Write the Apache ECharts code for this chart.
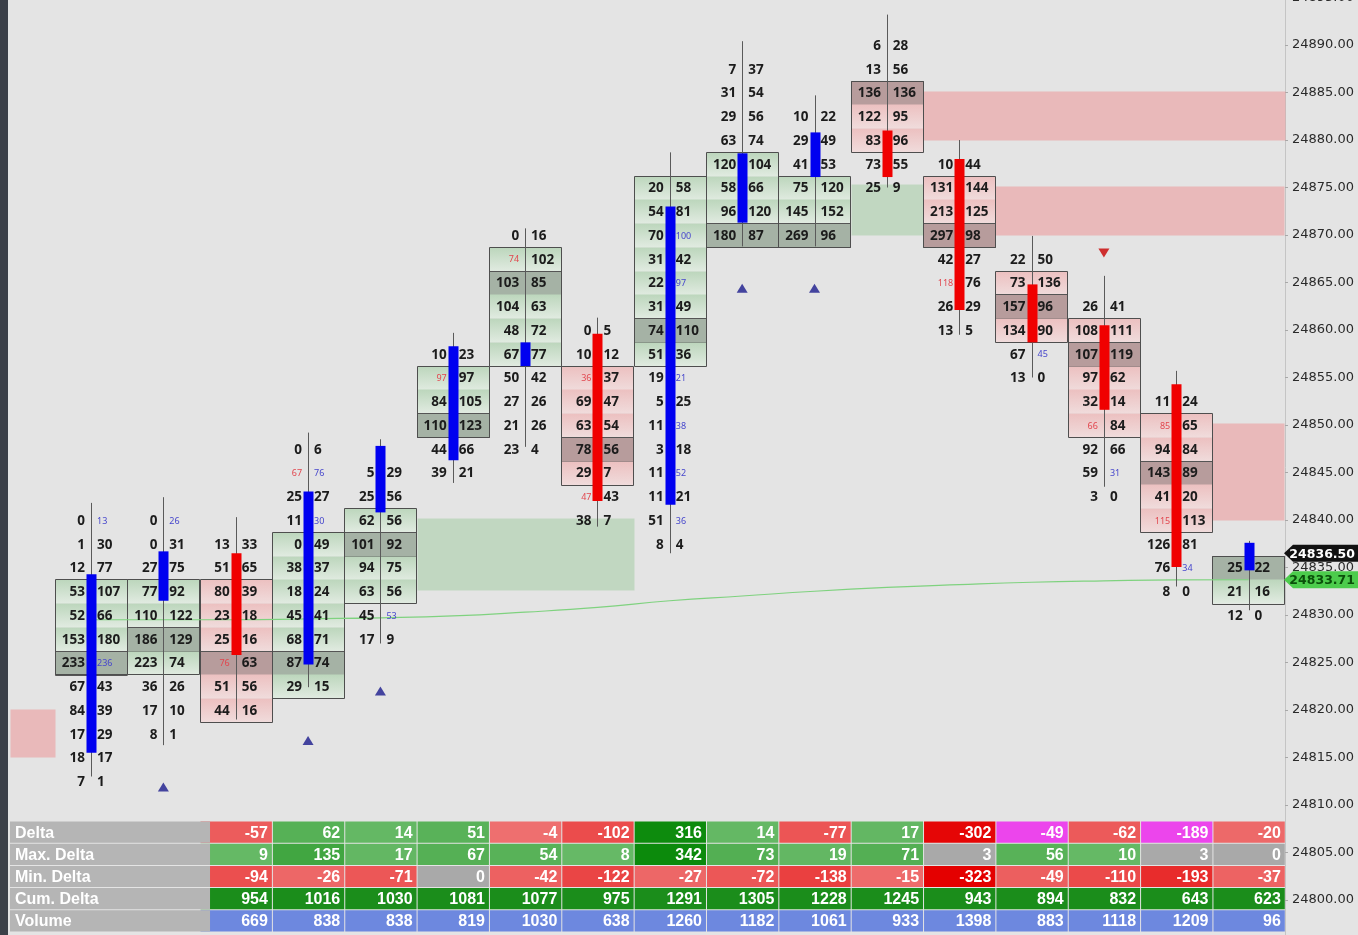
<!DOCTYPE html>
<html>
<head>
<meta charset="utf-8">
<title>Footprint</title>
<script src="https://cdn.jsdelivr.net/npm/echarts@6.0.0/dist/echarts.min.js"></script>
<style>
  html, body { margin: 0; padding: 0; background: #e4e4e4; }
  #chart { width: 1358px; height: 935px; }
</style>
</head>
<body>
<div id="chart"></div>
<script>
// ---- footprint data (bar index 0..16, rows every 2.5 points) ----
const topPrice = [24840, 24840, 24837.5, 24847.5, 24845, 24857.5, 24870, 24860, 24875, 24887.5, 24882.5, 24890, 24877.5, 24867.5, 24862.5, 24852.5, 24835];

const bidVol = [
  [0, 1, 12, 53, 52, 153, 233, 67, 84, 17, 18, 7],
  [0, 0, 27, 77, 110, 186, 223, 36, 17, 8],
  [13, 51, 80, 23, 25, 76, 51, 44],
  [0, 67, 25, 11, 0, 38, 18, 45, 68, 87, 29],
  [5, 25, 62, 101, 94, 63, 45, 17],
  [10, 97, 84, 110, 44, 39],
  [0, 74, 103, 104, 48, 67, 50, 27, 21, 23],
  [0, 10, 36, 69, 63, 78, 29, 47, 38],
  [20, 54, 70, 31, 22, 31, 74, 51, 19, 5, 11, 3, 11, 11, 51, 8],
  [7, 31, 29, 63, 120, 58, 96, 180],
  [10, 29, 41, 75, 145, 269],
  [6, 13, 136, 122, 83, 73, 25],
  [10, 131, 213, 297, 42, 118, 26, 13],
  [22, 73, 157, 134, 67, 13],
  [26, 108, 107, 97, 32, 66, 92, 59, 3],
  [11, 85, 94, 143, 41, 115, 126, 76, 8],
  [25, 21, 12]
];

const askVol = [
  [13, 30, 77, 107, 66, 180, 236, 43, 39, 29, 17, 1],
  [26, 31, 75, 92, 122, 129, 74, 26, 10, 1],
  [33, 65, 39, 18, 16, 63, 56, 16],
  [6, 76, 27, 30, 49, 37, 24, 41, 71, 74, 15],
  [29, 56, 56, 92, 75, 56, 53, 9],
  [23, 97, 105, 123, 66, 21],
  [16, 102, 85, 63, 72, 77, 42, 26, 26, 4],
  [5, 12, 37, 47, 54, 56, 7, 43, 7],
  [58, 81, 100, 42, 97, 49, 110, 36, 21, 25, 38, 18, 52, 21, 36, 4],
  [37, 54, 56, 74, 104, 66, 120, 87],
  [22, 49, 53, 120, 152, 96],
  [28, 56, 136, 95, 96, 55, 9],
  [44, 144, 125, 98, 27, 76, 29, 5],
  [50, 136, 96, 90, 45, 0],
  [41, 111, 119, 62, 14, 84, 66, 31, 0],
  [24, 65, 84, 89, 20, 113, 81, 34, 0],
  [22, 16, 0]
];

// imbalance cells [bar, price]
const bidImbalance = [[2, 24825], [3, 24845], [5, 24855], [6, 24867.5], [7, 24855], [7, 24842.5], [12, 24865], [14, 24850], [15, 24850], [15, 24840]];
const askImbalance = [[0, 24840], [0, 24825], [1, 24840], [3, 24845], [3, 24840], [4, 24830], [8, 24870], [8, 24865], [8, 24855], [8, 24850], [8, 24845], [8, 24840], [13, 24857.5], [14, 24845], [15, 24835]];

// value area + point of control
const vaHigh = [24832.5, 24832.5, 24832.5, 24837.5, 24840, 24855, 24867.5, 24855, 24875, 24877.5, 24875, 24885, 24875, 24865, 24860, 24850, 24835];
const vaLow  = [24825, 24825, 24820, 24822.5, 24832.5, 24850, 24857.5, 24845, 24857.5, 24870, 24870, 24880, 24870, 24860, 24850, 24840, 24832.5];
const poc    = [24825, 24827.5, 24825, 24825, 24837.5, 24850, 24865, 24847.5, 24860, 24870, 24870, 24885, 24870, 24862.5, 24857.5, 24845, 24835];

// candles
const open  = [24815.5, 24831.5, 24836.5, 24824.8, 24840.8, 24846.3, 24856.2, 24859.6, 24841.6, 24871.3, 24876.1, 24881, 24878, 24864.8, 24860.5, 24854.3, 24834.7];
const high  = [24841.8, 24842.4, 24840.3, 24849.2, 24848.5, 24859.7, 24870.7, 24861.3, 24878.7, 24890.4, 24884.7, 24893.2, 24880, 24869.9, 24865.7, 24855.7, 24837.8];
const low   = [24813, 24816.3, 24819, 24822.4, 24827, 24843.9, 24847.7, 24839.3, 24836.5, 24868.8, 24868.8, 24875, 24859.5, 24855, 24843.5, 24833, 24830.5];
const close = [24834.3, 24836.7, 24825.8, 24843, 24847.8, 24858.3, 24858.7, 24842, 24873, 24878.6, 24880.8, 24876.1, 24862.1, 24858.7, 24851.6, 24835.05, 24837.6];

// vwap line
const vwap = [24829.5, 24829.5, 24829.5, 24829.6, 24829.7, 24829.9, 24830.3, 24830.8, 24831.5, 24832.0, 24832.5, 24832.9, 24833.2, 24833.45, 24833.6, 24833.7, 24833.71];

// signal triangles [bar, price]
const upSignals = [[1, 24811.9], [3, 24816.8], [4, 24822], [9, 24864.4], [10, 24864.4]];
const downSignals = [[14, 24868.1]];

// supply / demand zones
const zoneStart = [11.5, 12.5, 15.5, -1.12, 4.5, 10.5];
const zoneEnd   = [16.5, 16.5, 16.5, -0.5, 7.5, 11.5];
const zoneLow   = [24880, 24870, 24840, 24815, 24832.6, 24870];
const zoneHigh  = [24885.2, 24875.2, 24850.2, 24820.1, 24840.2, 24875.4];
const zoneSide  = ['supply', 'supply', 'supply', 'supply', 'demand', 'demand'];

const lastPrice = 24836.5;
const vwapLast = 24833.71;

// bar statistics table (bars 2..16)
const tableRows = ['Delta', 'Max. Delta', 'Min. Delta', 'Cum. Delta', 'Volume'];
const firstTableBar = 2;
const delta    = [-57, 62, 14, 51, -4, -102, 316, 14, -77, 17, -302, -49, -62, -189, -20];
const maxDelta = [9, 135, 17, 67, 54, 8, 342, 73, 19, 71, 3, 56, 10, 3, 0];
const minDelta = [-94, -26, -71, 0, -42, -122, -27, -72, -138, -15, -323, -49, -110, -193, -37];
const cumDelta = [954, 1016, 1030, 1081, 1077, 975, 1291, 1305, 1228, 1245, 943, 894, 832, 643, 623];
const volume   = [669, 838, 838, 819, 1030, 638, 1260, 1182, 1061, 933, 1398, 883, 1118, 1209, 96];
const deltaDivergence = [13, 15]; // bars with magenta delta

// ---- build series items ----
const X_MIN = -1.258, X_MAX = 16.503;
const ROW = 2.5;

const hasCell = (list, i, p) => list.some(d => d[0] === i && d[1] === p) ? 1 : 0;

const cellItems = [];
topPrice.forEach((top, i) => {
  bidVol[i].forEach((b, r) => {
    const p = top - r * ROW;
    cellItems.push([i, p, b, askVol[i][r], hasCell(bidImbalance, i, p), hasCell(askImbalance, i, p)]);
  });
});

const vaItems = [];
const boxItems = [];
vaHigh.forEach((hi, i) => {
  const up = close[i] >= open[i] ? 1 : 0;
  for (let p = hi; p >= vaLow[i]; p -= ROW) {
    vaItems.push([i, p, p === poc[i] ? 1 : 0, up]);
  }
  boxItems.push([i, hi, vaLow[i], poc[i]]);
});

const candleItems = open.map((o, i) => [i, o, high[i], low[i], close[i]]);
const zoneItems = zoneStart.map((x0, k) => [x0, zoneEnd[k], zoneLow[k], zoneHigh[k], zoneSide[k] === 'supply' ? 1 : 0]);

const tableSeries = [delta, maxDelta, minDelta, cumDelta, volume];
const tableItems = [];
tableSeries.forEach((vals, r) => {
  vals.forEach((v, k) => {
    const bar = k + firstTableBar;
    const flag = r === 0 && deltaDivergence.includes(bar) ? 1 : 0;
    tableItems.push([bar, r, v, flag]);
  });
});

// ---- styles ----
const FONT = '"Noto Sans", "DejaVu Sans", sans-serif';
const TFONT = '"Liberation Sans", Arial, sans-serif';

function mix(a, b, t) {
  return 'rgb(' + a.map((c, j) => Math.round(c + (b[j] - c) * t)).join(',') + ')';
}

function cellColor(row, v, flag) {
  if (row === 3) return '#1b8d1b';
  if (row === 4) return '#6d88df';
  if (flag) return '#ec45ec';
  if (Math.abs(v) <= 3) return '#a9a9a9';
  const t = Math.min(Math.abs(v) / 320, 1);
  return v > 0 ? mix([104, 186, 104], [12, 138, 12], t) : mix([238, 112, 112], [228, 0, 0], t);
}

const upFill = new echarts.graphic.LinearGradient(0, 0, 0, 1, [
  { offset: 0, color: '#bcd6bc' }, { offset: 1, color: '#e1ebe1' }
]);
const downFill = new echarts.graphic.LinearGradient(0, 0, 0, 1, [
  { offset: 0, color: '#ecc0c0' }, { offset: 1, color: '#f0dcdc' }
]);

function rowRect(api, x0, x1, pHigh, pLow) {
  const a = api.coord([x0, pHigh]);
  const b = api.coord([x1, pLow]);
  return { x: Math.round(a[0]) + 0.5, y: Math.round(a[1]) + 0.5, width: Math.round(b[0] - a[0]), height: Math.round(b[1] - a[1]) };
}

const chart = echarts.init(document.getElementById('chart'));

const option = {
  backgroundColor: '#e4e4e4',
  animation: false,
  grid: [
    { left: 0, top: -2.5, width: 1285, height: 950, outerBoundsMode: 'none', containLabel: false },
    { left: 0, top: 821, width: 1285, height: 111, outerBoundsMode: 'none', containLabel: false }
  ],
  xAxis: [
    { type: 'value', min: X_MIN, max: X_MAX, show: false, gridIndex: 0 },
    { type: 'value', min: X_MIN, max: X_MAX, show: false, gridIndex: 1 }
  ],
  yAxis: [
    {
      type: 'value', gridIndex: 0, position: 'right',
      min: 24795, max: 24895, interval: 5,
      axisLine: { show: true, onZero: false, lineStyle: { color: '#c4c4c4' } },
      axisTick: { show: true, length: 3, lineStyle: { color: '#a8a8a8' } },
      splitLine: { show: false },
      axisLabel: {
        margin: 7, color: '#2a2a2a', fontSize: 13, fontFamily: '"DejaVu Sans", sans-serif',
        formatter: v => v.toFixed(2)
      }
    },
    {
      type: 'category', gridIndex: 1, data: tableRows, inverse: true, show: false,
      axisLine: { onZero: false }
    }
  ],
  graphic: [
    { type: 'rect', z: 100, shape: { x: 0, y: 0, width: 8, height: 935 }, style: { fill: '#3b4048' } }
  ],
  series: [
    {
      // zones
      type: 'custom', z: 1, data: zoneItems,
      renderItem: (params, api) => {
        const r = rowRect(api, api.value(0), api.value(1), api.value(3), api.value(2));
        return { type: 'rect', shape: r, style: { fill: api.value(4) ? 'rgba(236,150,152,0.55)' : 'rgba(150,200,150,0.45)' } };
      }
    },
    {
      // value area rows
      type: 'custom', z: 2, data: vaItems,
      renderItem: (params, api) => {
        const i = api.value(0), p = api.value(1), isPoc = api.value(2), up = api.value(3);
        const r = rowRect(api, i - 0.5, i + 0.5, p + ROW / 2, p - ROW / 2);
        let fill;
        if (isPoc) fill = up ? '#a5b2a5' : '#b79c9c';
        else fill = up ? upFill : downFill;
        return {
          type: 'rect', shape: r,
          style: { fill: fill, stroke: isPoc ? '#555' : null, lineWidth: 1 }
        };
      }
    },
    {
      // value area outline
      type: 'custom', z: 3, data: boxItems,
      renderItem: (params, api) => {
        const i = api.value(0);
        const r = rowRect(api, i - 0.5, i + 0.5, api.value(1) + ROW / 2, api.value(2) - ROW / 2);
        return { type: 'rect', shape: r, style: { fill: 'none', stroke: '#4e4e4e', lineWidth: 1 } };
      }
    },
    {
      type: 'line', z: 4, data: vwap.map((v, i) => [i, v]),
      showSymbol: false, smooth: true,
      lineStyle: { color: '#7fd27f', width: 1.2 }
    },
    {
      // candles
      type: 'custom', z: 5, data: candleItems,
      renderItem: (params, api) => {
        const i = api.value(0), o = api.value(1), h = api.value(2), l = api.value(3), c = api.value(4);
        const ph = api.coord([i, h]), pl = api.coord([i, l]);
        const po = api.coord([i, o]), pc = api.coord([i, c]);
        const x = Math.round(ph[0]) + 0.5;
        const up = c >= o;
        return {
          type: 'group', children: [
            { type: 'line', shape: { x1: x, y1: ph[1], x2: x, y2: pl[1] }, style: { stroke: '#5a5a5a', lineWidth: 1 } },
            {
              type: 'rect',
              shape: { x: x - 5, y: Math.min(po[1], pc[1]), width: 10, height: Math.max(2, Math.abs(po[1] - pc[1])) },
              style: { fill: up ? '#0000f0' : '#f00000' }
            }
          ]
        };
      }
    },
    {
      // bid x ask numbers
      type: 'custom', z: 6, data: cellItems,
      renderItem: (params, api) => {
        const c = api.coord([api.value(0), api.value(1)]);
        const bi = api.value(4), ai = api.value(5);
        return {
          type: 'group', children: [
            {
              type: 'text',
              style: {
                x: c[0] - 6, y: c[1] + 1, text: String(api.value(2)), align: 'right', verticalAlign: 'middle',
                fontFamily: FONT, fontSize: bi ? 9 : 13.5, fontWeight: bi ? 'normal' : 'bold',
                fill: bi ? '#e2474f' : '#1c1c1c'
              }
            },
            {
              type: 'text',
              style: {
                x: c[0] + 6, y: c[1] + 1, text: String(api.value(3)), align: 'left', verticalAlign: 'middle',
                fontFamily: FONT, fontSize: ai ? 9 : 13.5, fontWeight: ai ? 'normal' : 'bold',
                fill: ai ? '#4646cc' : '#1c1c1c'
              }
            }
          ]
        };
      }
    },
    {
      type: 'scatter', z: 7, data: upSignals, symbol: 'triangle', symbolSize: [11, 9],
      itemStyle: { color: '#1a1a8c' }
    },
    {
      type: 'scatter', z: 7, data: downSignals, symbol: 'triangle', symbolRotate: 180, symbolSize: [11, 9],
      itemStyle: { color: '#c80000' }
    },
    {
      // price tags on the axis
      type: 'custom', z: 20, data: [[lastPrice, 0], [vwapLast, 1]],
      renderItem: (params, api) => {
        const p = api.value(0), kind = api.value(1);
        const pt = api.coord([X_MAX, p]);
        const x0 = pt[0], y = pt[1], W = api.getWidth();
        return {
          type: 'group', children: [
            {
              type: 'polygon',
              shape: { points: [[x0 - 1, y], [x0 + 8, y - 8.5], [W, y - 8.5], [W, y + 8.5], [x0 + 8, y + 8.5]] },
              style: { fill: kind ? '#4ccc4c' : '#111111' }
            },
            {
              type: 'text',
              style: {
                x: W - 3, y: y + 1, text: p.toFixed(2), align: 'right', verticalAlign: 'middle',
                fontFamily: '"DejaVu Sans", sans-serif', fontSize: 12.5, fontWeight: 'bold',
                fill: kind ? '#0a4f0a' : '#ffffff'
              }
            }
          ]
        };
      }
    },
    {
      // table cells
      type: 'custom', z: 30, xAxisIndex: 1, yAxisIndex: 1, data: tableItems,
      renderItem: (params, api) => {
        const bar = api.value(0), r = api.value(1), v = api.value(2), flag = api.value(3);
        const c = api.coord([bar, r]);
        const s = api.size([1, 1]);
        const x = c[0] - s[0] / 2, y = c[1] - s[1] / 2;
        return {
          type: 'group', children: [
            { type: 'rect', shape: { x: x + 1, y: y + 0.5, width: s[0] - 1, height: s[1] - 1 }, style: { fill: cellColor(r, v, flag) } },
            {
              type: 'text',
              style: {
                x: x + s[0] - 4, y: c[1] + 1, text: String(v), align: 'right', verticalAlign: 'middle',
                fontFamily: TFONT, fontSize: 16, fontWeight: 'bold', fill: '#ffffff'
              }
            }
          ]
        };
      }
    },
    {
      // table row labels
      type: 'custom', z: 31, xAxisIndex: 1, yAxisIndex: 1, data: tableRows.map((t, r) => [r]),
      renderItem: (params, api) => {
        const r = api.value(0);
        const a = api.coord([-1.12, r]);
        const b = api.coord([1.645, r]);
        const s = api.size([1, 1]);
        const y = a[1] - s[1] / 2;
        return {
          type: 'group', children: [
            { type: 'rect', shape: { x: a[0], y: y + 0.5, width: b[0] - a[0], height: s[1] - 1 }, style: { fill: '#b5b5b5' } },
            {
              type: 'text',
              style: {
                x: a[0] + 5, y: a[1] + 1, text: tableRows[r], align: 'left', verticalAlign: 'middle',
                fontFamily: TFONT, fontSize: 16, fontWeight: 'bold', fill: '#ffffff'
              }
            }
          ]
        };
      }
    }
  ]
};

chart.setOption(option);
window.addEventListener('resize', () => chart.resize());
</script>
</body>
</html>
